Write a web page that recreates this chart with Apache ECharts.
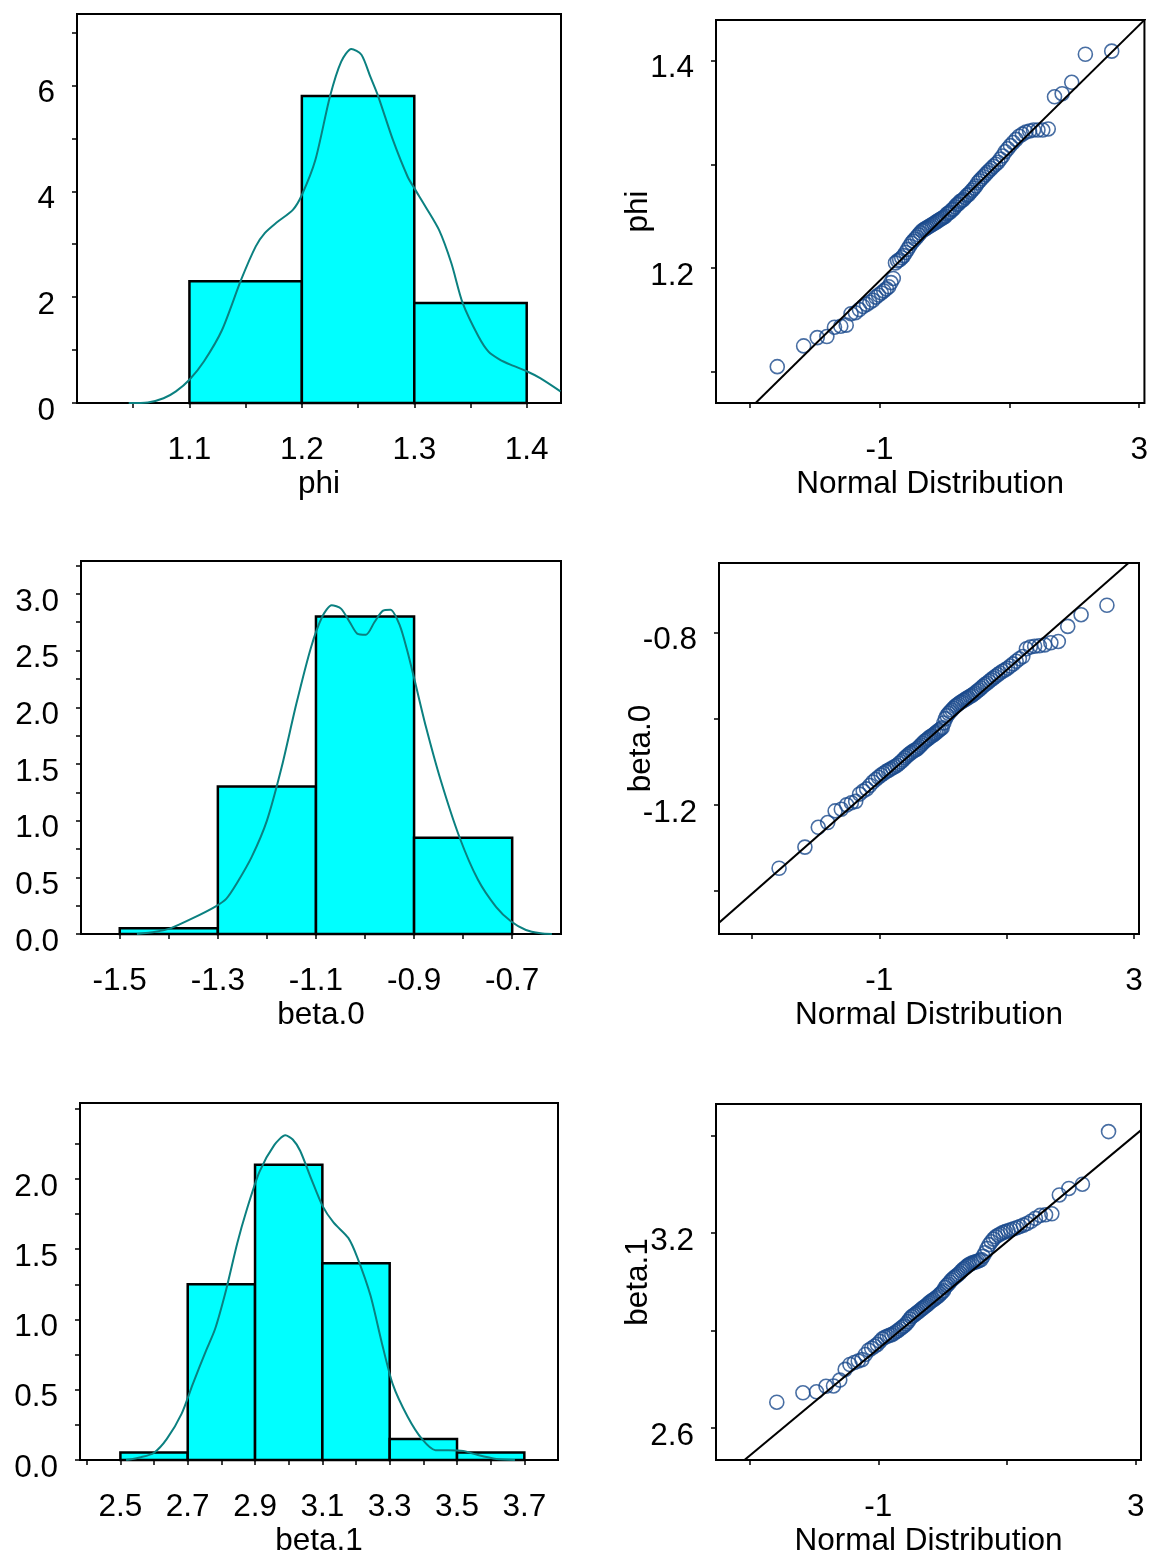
<!DOCTYPE html>
<html>
<head>
<meta charset="utf-8">
<script src="https://cdn.jsdelivr.net/npm/echarts@6/dist/echarts.min.js"></script>
<style>html,body{margin:0;padding:0;background:#fff}#c{width:1151px;height:1558px}</style>
</head>
<body>
<div id="c"></div>
<script>
// ---------- DATA ----------
// Histogram bins (density scale)
const phiBinEdges = [1.1, 1.2, 1.3, 1.4];
const phiBinHeights = [2.30, 5.80, 1.89];
const beta0BinEdges = [-1.5, -1.3, -1.1, -0.9, -0.7];
const beta0BinHeights = [0.05, 1.30, 2.80, 0.85];
const beta1BinEdges = [2.5, 2.7, 2.9, 3.1, 3.3, 3.5, 3.7];
const beta1BinHeights = [0.053, 1.25, 2.10, 1.40, 0.15, 0.053];

// Kernel density curves
const phiDensX = [1.046,1.063,1.077,1.088,1.100,1.113,1.129,1.146,1.159,1.167,1.177,1.192,1.200,1.212,1.225,1.235,1.244,1.253,1.261,1.268,1.281,1.294,1.300,1.310,1.322,1.333,1.343,1.357,1.366,1.376,1.386,1.400,1.412,1.430];
const phiDensY = [0,0.01,0.09,0.22,0.44,0.79,1.38,2.33,2.96,3.21,3.40,3.65,3.93,4.59,5.79,6.45,6.69,6.58,6.16,5.79,4.97,4.28,4.06,3.71,3.27,2.64,1.89,1.26,0.97,0.82,0.72,0.60,0.47,0.22];
const beta0DensX = [-1.465,-1.427,-1.397,-1.351,-1.306,-1.283,-1.261,-1.231,-1.200,-1.170,-1.140,-1.110,-1.087,-1.068,-1.049,-1.031,-1.016,-0.998,-0.981,-0.964,-0.948,-0.929,-0.914,-0.899,-0.876,-0.846,-0.808,-0.770,-0.733,-0.702,-0.672,-0.642,-0.619];
const beta0DensY = [0,0.02,0.05,0.14,0.24,0.31,0.45,0.68,1.00,1.47,2.03,2.53,2.80,2.90,2.87,2.75,2.65,2.64,2.75,2.85,2.86,2.72,2.50,2.24,1.83,1.36,0.86,0.48,0.24,0.11,0.035,0.006,0];
const beta1DensX = [2.517,2.561,2.599,2.638,2.682,2.715,2.753,2.781,2.814,2.847,2.874,2.913,2.957,2.990,3.012,3.034,3.067,3.100,3.133,3.177,3.204,3.243,3.276,3.309,3.353,3.397,3.436,3.474,3.518,3.562,3.617,3.672];
const beta1DensY = [0,0.02,0.05,0.15,0.33,0.54,0.77,0.93,1.21,1.54,1.77,2.05,2.24,2.31,2.28,2.20,2.00,1.81,1.69,1.58,1.44,1.17,0.84,0.54,0.31,0.146,0.07,0.07,0.065,0.035,0.007,0];

// Normal QQ plots: theoretical quantiles (n = 100) and sorted samples
const normalQuantiles = [-2.576,-2.170,-1.960,-1.812,-1.695,-1.598,-1.514,-1.440,-1.372,-1.311,-1.254,-1.200,-1.150,-1.103,-1.058,-1.015,-0.974,-0.935,-0.896,-0.860,-0.824,-0.789,-0.755,-0.722,-0.690,-0.659,-0.628,-0.598,-0.568,-0.539,-0.510,-0.482,-0.454,-0.426,-0.399,-0.372,-0.345,-0.319,-0.292,-0.266,-0.240,-0.215,-0.189,-0.164,-0.138,-0.113,-0.088,-0.063,-0.038,-0.013,0.013,0.038,0.063,0.088,0.113,0.138,0.164,0.189,0.215,0.240,0.266,0.292,0.319,0.345,0.372,0.399,0.426,0.454,0.482,0.510,0.539,0.568,0.598,0.628,0.659,0.690,0.722,0.755,0.789,0.824,0.860,0.896,0.935,0.974,1.015,1.058,1.103,1.150,1.200,1.254,1.311,1.372,1.440,1.514,1.598,1.695,1.812,1.960,2.170,2.576];
const phiSorted = [1.105,1.125,1.133,1.134,1.143,1.144,1.145,1.156,1.157,1.160,1.163,1.165,1.167,1.169,1.172,1.174,1.176,1.178,1.180,1.182,1.186,1.190,1.205,1.207,1.208,1.210,1.212,1.215,1.218,1.221,1.224,1.226,1.228,1.230,1.232,1.234,1.236,1.237,1.238,1.239,1.240,1.241,1.242,1.243,1.244,1.245,1.246,1.247,1.248,1.249,1.250,1.252,1.253,1.254,1.256,1.257,1.259,1.261,1.262,1.264,1.265,1.266,1.268,1.270,1.271,1.273,1.275,1.277,1.279,1.282,1.284,1.286,1.288,1.290,1.292,1.294,1.296,1.298,1.300,1.302,1.305,1.308,1.312,1.315,1.318,1.321,1.324,1.327,1.329,1.331,1.332,1.333,1.333,1.333,1.334,1.365,1.368,1.379,1.406,1.409];
const beta0Sorted = [-1.347,-1.298,-1.252,-1.241,-1.214,-1.210,-1.200,-1.195,-1.192,-1.175,-1.168,-1.163,-1.155,-1.147,-1.141,-1.136,-1.131,-1.127,-1.123,-1.120,-1.117,-1.114,-1.111,-1.108,-1.104,-1.100,-1.096,-1.091,-1.087,-1.083,-1.080,-1.077,-1.074,-1.072,-1.069,-1.065,-1.061,-1.057,-1.053,-1.050,-1.047,-1.044,-1.041,-1.039,-1.036,-1.033,-1.030,-1.027,-1.024,-1.021,-1.010,-1.000,-0.993,-0.988,-0.984,-0.980,-0.976,-0.972,-0.969,-0.966,-0.963,-0.961,-0.958,-0.956,-0.953,-0.951,-0.948,-0.946,-0.943,-0.940,-0.936,-0.933,-0.929,-0.925,-0.921,-0.918,-0.914,-0.910,-0.906,-0.902,-0.898,-0.894,-0.890,-0.887,-0.883,-0.878,-0.873,-0.867,-0.861,-0.856,-0.838,-0.834,-0.832,-0.831,-0.829,-0.824,-0.821,-0.786,-0.759,-0.737];
const beta1Sorted = [2.679,2.708,2.711,2.728,2.729,2.747,2.780,2.795,2.801,2.806,2.810,2.826,2.839,2.845,2.851,2.857,2.866,2.874,2.879,2.882,2.885,2.887,2.891,2.896,2.900,2.905,2.910,2.914,2.920,2.927,2.935,2.942,2.946,2.950,2.954,2.958,2.963,2.967,2.971,2.975,2.979,2.984,2.988,2.992,2.995,2.999,3.003,3.007,3.012,3.017,3.022,3.032,3.038,3.043,3.049,3.055,3.060,3.064,3.068,3.072,3.077,3.083,3.088,3.092,3.097,3.101,3.104,3.107,3.109,3.111,3.113,3.115,3.118,3.128,3.139,3.152,3.164,3.173,3.181,3.188,3.193,3.197,3.201,3.204,3.207,3.210,3.213,3.216,3.220,3.224,3.229,3.236,3.245,3.254,3.256,3.259,3.317,3.337,3.350,3.512];

// QQ reference lines (two points each, data units)
const phiQQLineX = [-3.6, 3.2];   const phiQQLineY = [1.0275, 1.4464];
const beta0QQLineX = [-3.6, 3.2]; const beta0QQLineY = [-1.4839, -0.6020];
const beta1QQLineX = [-3.6, 3.2]; const beta1QQLineY = [2.4149, 3.5362];

// Tick values and tick labels
const phiTicks = [1.05,1.1,1.15,1.2,1.25,1.3,1.35,1.4];
const phiTickLabels = [1.1,1.2,1.3,1.4];
const phiDensTicks = [0,1,2,3,4,5,6,7];
const phiDensLabels = [0,2,4,6];
const beta0Ticks = [-1.5,-1.4,-1.3,-1.2,-1.1,-1.0,-0.9,-0.8,-0.7];
const beta0TickLabels = [-1.5,-1.3,-1.1,-0.9,-0.7];
const beta0DensTicks = [0,0.25,0.5,0.75,1,1.25,1.5,1.75,2,2.25,2.5,2.75,3,3.25];
const beta0DensLabels = [0,0.5,1,1.5,2,2.5,3];
const beta1Ticks = [2.4,2.5,2.6,2.7,2.8,2.9,3.0,3.1,3.2,3.3,3.4,3.5,3.6,3.7];
const beta1TickLabels = [2.5,2.7,2.9,3.1,3.3,3.5,3.7];
const beta1DensTicks = [0,0.25,0.5,0.75,1,1.25,1.5,1.75,2,2.25,2.5];
const beta1DensLabels = [0,0.5,1,1.5,2];
const qqXTicks = [-3,-1,1,3];
const qqXLabels = [-1,3];
const phiQQTicks = [1.1,1.2,1.3,1.4];
const phiQQLabels = [1.2,1.4];
const beta0QQTicks = [-1.4,-1.2,-1.0,-0.8];
const beta0QQLabels = [-1.2,-0.8];
const beta1QQTicks = [2.6,2.9,3.2,3.5];
const beta1QQLabels = [2.6,3.2];

// ---------- CHART ----------
const FONT = 'Liberation Sans, Arial, Helvetica, sans-serif';
const FS = 31.5;
const chart = echarts.init(document.getElementById('c'), null, {renderer: 'canvas'});

const grids = [
  {left: 77,  top: 14,   width: 484, height: 389},
  {left: 716, top: 20,   width: 429, height: 383},
  {left: 81,  top: 561,  width: 480, height: 373},
  {left: 719, top: 563,  width: 420, height: 371},
  {left: 80,  top: 1103, width: 478, height: 369},
  {left: 716, top: 1104, width: 425, height: 364}
].map(g => Object.assign(g, {show: true, borderColor: '#000', borderWidth: 2, backgroundColor: 'transparent', containLabel: false}));

function fmt(dec) { return v => (dec === 0 ? String(Math.round(v)) : Number(v).toFixed(dec)); }

function xAxis(gi, min, max, ticks, labels, name, dec) {
  return {
    type: 'value', gridIndex: gi, min: min, max: max,
    name: name, nameLocation: 'middle', nameGap: 65, nameMoveOverlap: false,
    nameTextStyle: {fontSize: FS, color: '#000', fontFamily: FONT},
    axisLine: {show: false, onZero: false}, splitLine: {show: false},
    axisTick: {show: true, inside: false, length: 5, lineStyle: {color: '#000', width: 1.5}, customValues: ticks},
    axisLabel: {show: true, customValues: labels, fontSize: FS, color: '#000', fontFamily: FONT, margin: 31, formatter: fmt(dec)}
  };
}
function yAxis(gi, min, max, ticks, labels, name, dec) {
  return {
    type: 'value', gridIndex: gi, min: min, max: max,
    name: name || '', nameLocation: 'middle', nameGap: 62, nameMoveOverlap: false,
    nameTextStyle: {fontSize: FS, color: '#000', fontFamily: FONT},
    axisLine: {show: false, onZero: false}, splitLine: {show: false},
    axisTick: {show: true, inside: false, length: 5, lineStyle: {color: '#000', width: 1.5}, customValues: ticks},
    axisLabel: {show: true, customValues: labels, fontSize: FS, color: '#000', fontFamily: FONT, margin: 22,
      verticalAlign: 'top', lineHeight: 16, formatter: fmt(dec)}
  };
}

function binsData(edges, heights) {
  return heights.map((h, i) => [edges[i], edges[i + 1], h]);
}
function zipXY(xs, ys) { return xs.map((x, i) => [x, ys[i]]); }

function histSeries(gi, edges, heights) {
  return {
    type: 'custom', xAxisIndex: gi, yAxisIndex: gi, z: 2,
    data: binsData(edges, heights),
    encode: {x: [0, 1], y: 2},
    renderItem: function (params, api) {
      const p0 = api.coord([api.value(0), 0]);
      const p1 = api.coord([api.value(1), api.value(2)]);
      return {
        type: 'rect',
        shape: {x: p0[0], y: p1[1], width: p1[0] - p0[0], height: p0[1] - p1[1]},
        style: {fill: '#00ffff', stroke: '#000', lineWidth: 2.5}
      };
    }
  };
}
function densSeries(gi, xs, ys) {
  return {
    type: 'line', xAxisIndex: gi, yAxisIndex: gi, z: 3,
    data: zipXY(xs, ys), smooth: 0.25, showSymbol: false, symbol: 'none',
    lineStyle: {color: '#0b8080', width: 2}, clip: true
  };
}
function qqPoints(gi, ys) {
  return {
    type: 'scatter', xAxisIndex: gi, yAxisIndex: gi, z: 3,
    data: zipXY(normalQuantiles, ys), symbol: 'circle', symbolSize: 14,
    itemStyle: {color: 'rgba(0,0,0,0)', borderColor: '#1a4a8c', borderWidth: 1.6}
  };
}
function qqLine(gi, xs, ys) {
  return {
    type: 'line', xAxisIndex: gi, yAxisIndex: gi, z: 4,
    data: zipXY(xs, ys), showSymbol: false, symbol: 'none',
    lineStyle: {color: '#000', width: 2}, clip: true
  };
}

const QQMIN = -3.52, QQMAX = 3.08;

const option = {
  animation: false,
  backgroundColor: '#fff',
  textStyle: {fontFamily: FONT},
  grid: grids,
  xAxis: [
    xAxis(0, 1.0, 1.4305, phiTicks, phiTickLabels, 'phi', 1),
    xAxis(1, QQMIN, QQMAX, qqXTicks, qqXLabels, 'Normal Distribution', 0),
    xAxis(2, -1.579, -0.6005, beta0Ticks, beta0TickLabels, 'beta.0', 1),
    xAxis(3, QQMIN, QQMAX, qqXTicks, qqXLabels, 'Normal Distribution', 0),
    xAxis(4, 2.38, 3.80, beta1Ticks, beta1TickLabels, 'beta.1', 1),
    xAxis(5, QQMIN, QQMAX, qqXTicks, qqXLabels, 'Normal Distribution', 0)
  ],
  yAxis: [
    yAxis(0, 0, 7.35, phiDensTicks, phiDensLabels, '', 0),
    yAxis(1, 1.07, 1.439, phiQQTicks, phiQQLabels, 'phi', 1),
    yAxis(2, 0, 3.29, beta0DensTicks, beta0DensLabels, '', 1),
    yAxis(3, -1.4995, -0.639, beta0QQTicks, beta0QQLabels, 'beta.0', 1),
    yAxis(4, 0, 2.54, beta1DensTicks, beta1DensLabels, '', 1),
    yAxis(5, 2.501, 3.597, beta1QQTicks, beta1QQLabels, 'beta.1', 1)
  ],
  series: [
    histSeries(0, phiBinEdges, phiBinHeights),
    densSeries(0, phiDensX, phiDensY),
    qqPoints(1, phiSorted),
    qqLine(1, phiQQLineX, phiQQLineY),
    histSeries(2, beta0BinEdges, beta0BinHeights),
    densSeries(2, beta0DensX, beta0DensY),
    qqPoints(3, beta0Sorted),
    qqLine(3, beta0QQLineX, beta0QQLineY),
    histSeries(4, beta1BinEdges, beta1BinHeights),
    densSeries(4, beta1DensX, beta1DensY),
    qqPoints(5, beta1Sorted),
    qqLine(5, beta1QQLineX, beta1QQLineY)
  ]
};
chart.setOption(option);
</script>
</body>
</html>
